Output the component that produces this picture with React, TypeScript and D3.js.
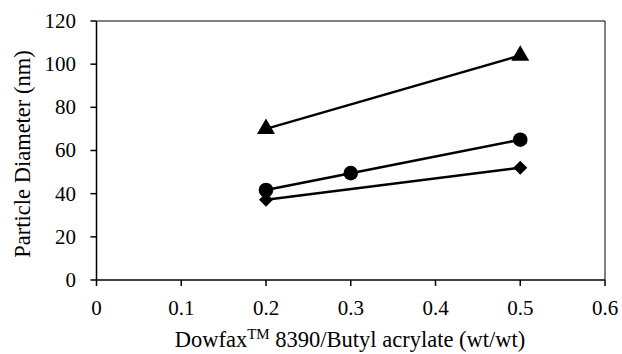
import React from "react";
import * as d3 from "d3";

const xTicks = [0, 0.1, 0.2, 0.3, 0.4, 0.5, 0.6];
const yTicks = [0, 20, 40, 60, 80, 100, 120];

const triX = [0.2, 0.5];
const triY = [70, 104];
const circX = [0.2, 0.3, 0.5];
const circY = [41.7, 49.5, 65];
const diaX = [0.2, 0.5];
const diaY = [37.2, 52];

const W = 622, H = 354;
const L = 96.5, R = 605, T = 21, B = 280;

export default function App() {
  const x = d3.scaleLinear().domain([0, 0.6]).range([L, R]);
  const y = d3.scaleLinear().domain([0, 120]).range([B, T]);
  const line = d3.line<[number, number]>().x(d => x(d[0])).y(d => y(d[1]));
  const font = "'Liberation Serif', 'Times New Roman', serif";
  const tri = d3.symbol().type(d3.symbolTriangle).size(140)();
  const dia = d3.symbol().type(d3.symbolDiamond2 ?? d3.symbolDiamond).size(125)();
  const series = [
    { xs: triX, ys: triY, kind: "tri" },
    { xs: circX, ys: circY, kind: "circ" },
    { xs: diaX, ys: diaY, kind: "dia" },
  ];
  return (
    <svg width={W} height={H} style={{ position: "absolute", left: 0, top: 0 }}>
      <rect x={0} y={0} width={W} height={H} fill="#fff" />
      <line x1={L} x2={R} y1={T} y2={T} stroke="#000" strokeWidth={1} />
      <line x1={R} x2={R} y1={T} y2={B} stroke="#000" strokeWidth={1} />
      <line x1={L} x2={L} y1={T} y2={B} stroke="#000" strokeWidth={1.5} />
      <line x1={L} x2={R} y1={B} y2={B} stroke="#000" strokeWidth={1.5} />
      {yTicks.map(t => (
        <g key={"y" + t}>
          <line x1={L - 6} x2={L} y1={y(t)} y2={y(t)} stroke="#000" strokeWidth={1.5} />
          <text x={76} y={y(t)} dy="0.33em" textAnchor="end" fontFamily={font} fontSize={21}>{t}</text>
        </g>
      ))}
      {xTicks.map(t => (
        <g key={"x" + t}>
          <line x1={x(t)} x2={x(t)} y1={B} y2={B + 6} stroke="#000" strokeWidth={1.5} />
          <text x={x(t)} y={315} textAnchor="middle" fontFamily={font} fontSize={21}>{d3.format("")(t)}</text>
        </g>
      ))}
      <text transform={`translate(30,154) rotate(-90)`} textAnchor="middle" fontFamily={font} fontSize={22.5}>
        Particle Diameter (nm)
      </text>
      <text x={350} y={347} textAnchor="middle" fontFamily={font} fontSize={22.5}>
        Dowfax<tspan fontSize={15} dy={-8}>TM</tspan><tspan dy={8}> 8390/Butyl acrylate (wt/wt)</tspan>
      </text>
      {series.map((s, i) => {
        const pts = s.xs.map((v, j) => [v, s.ys[j]] as [number, number]);
        return (
          <g key={i}>
            <path d={line(pts) || ""} fill="none" stroke="#000" strokeWidth={2.5} />
            {pts.map((p, j) =>
              s.kind === "circ" ? (
                <circle key={j} cx={x(p[0])} cy={y(p[1])} r={7.3} fill="#000" />
              ) : (
                <path key={j} d={(s.kind === "tri" ? tri : dia) || ""} transform={`translate(${x(p[0])},${y(p[1])})`} fill="#000" />
              )
            )}
          </g>
        );
      })}
    </svg>
  );
}
